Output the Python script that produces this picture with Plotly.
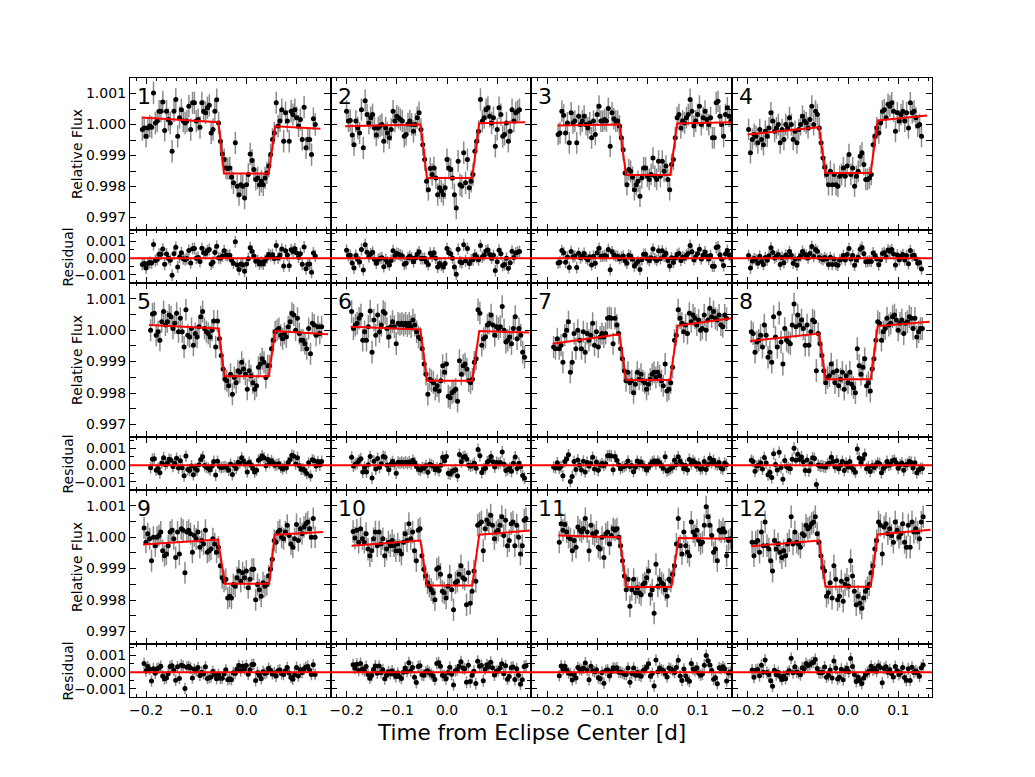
import numpy as np
import plotly.graph_objects as go
from plotly.subplots import make_subplots

# observation cadence [d] and first time stamp of every visit
cadence = 0.0037
t_start = [-0.2074, -0.200, -0.178, -0.198, -0.191, -0.190,
           -0.187, -0.1926, -0.204, -0.187, -0.1757, -0.191]

# typical photometric error [ppm]
err_ppm = [360, 360, 350, 350, 350, 360, 350, 360, 350, 360, 350, 360]

# relative flux - 1 [ppm], one list per visit
flux_p1 = [-160, -110, -380, -110, -50, -90, 1020, 50, 110, 430, 430, 730, -190, 430, 160, 50, -860, 430, 810, -380,
           220, 480, 110, 50, 110, 590, -160, 700, 700, 110, 160, -90, 700, 430, 380, 540, 620, -270, -160, 430,
           800, 50, -540, -950, -1130, -1400, -1420, -1400, -1700, -1880, -590, -1990, -2260, -1940, -1990, -2370,
           -1940, -1610, -950, -1160, -1450, -1770, -1720, -1940, -1830, -1940, -1720, -1560, -1340, -970, -480,
           -270, 700, -50, 110, 480, -540, 380, 110, -540, 430, 320, 480, 220, -50, 160, -480, 560, -750, -480,
           -480, -970, 190, 0]
flux_p2 = [430, 110, 130, -340, -650, 110, -110, -270, 480, -750, 770, 320, 50, 220, 320, -110, -340, -110, -50, 0,
           -540, -110, -270, -430, -160, 430, 110, 270, 220, 160, 110, -380, -320, 20, 110, 0, -220, 0, 220, 380,
           -160, -650, -1130, -1830, -2100, -1420, -1610, -1400, -1720, -2260, -2040, -2150, -2260, -2040, -1130,
           -1400, -1450, -1720, -2260, -2690, -1180, -1940, -1990, -910, -1880, -1130, -2040, -1830, -1610, -860,
           -540, -220, 810, 110, 220, 480, 540, 270, 50, 220, -700, -160, 540, 320, -380, -320, 50, -540, -220, 480,
           110, 380, 430, 480]
flux_p3 = [-320, -270, 430, 300, -270, 50, -590, 380, 50, 110, -590, 270, 0, 110, 270, 0, -110, 50, -430, 110,
           -320, 320, 590, 110, 110, 160, 110, 520, -700, 380, 190, 110, 110, -50, -430, -810, -1560, -1940, -1450,
           -1510, -1700, -2100, -1940, -1830, -2310, -1720, -1400, -1400, -1670, -1770, -1610, -1080, -1670, -1770,
           -1180, -1670, -1180, -1510, -1340, -1770, -2100, -1290, -1130, -430, 220, 320, -110, 110, 50, 220, 320,
           810, 430, -50, 110, 320, 590, 0, 220, 430, 160, 0, 220, -430, -430, 700, 750, 270, 0, -380, 320, 540,
           270, 110, 160]
flux_p4 = [-160, -910, -480, -320, -380, -590, -160, -480, -650, -220, -380, -110, 380, 110, -220, -110, 0, -590,
           -160, -480, 0, -110, 220, 0, -480, -220, -590, -160, 0, 270, 110, 50, -110, 160, 590, 0, 430, 320, -110,
           -590, -1080, -1380, -1610, -1940, -1510, -1940, -1610, -1940, -1990, -1670, -1610, -1400, -1670, -1340,
           -970, -1610, -1400, -1990, -1670, -1510, -1020, -910, -1290, -1770, -1770, -1720, -1610, -650, -380,
           -110, -270, 50, 430, 480, 220, 650, 590, 700, 430, -220, 380, 110, 320, 430, 110, 380, -110, 700, 380,
           430, 220, -50, 0, -380]
flux_p5 = [0, 510, 540, -160, -50, -320, 270, 590, 160, 270, 480, 430, 50, 220, 540, -50, 380, -50, -540, 650,
           -160, -220, 50, -480, -110, -220, 110, 430, 590, 50, -50, -110, -220, 0, 290, -540, 290, -270, -810,
           -1240, -1560, -1610, -1770, -1400, -2040, -1510, -1670, -1290, -1340, -1020, -1240, -1400, -1880, -1290,
           -1450, -1670, -1880, -1770, -1180, -1080, -910, -1020, -1510, -1130, -1130, -590, -320, -50, 0, 50, -160,
           -270, -110, -220, 110, 270, 540, 480, 0, 380, -110, -320, -320, -430, -590, 50, -750, 220, 160, -160,
           110, -110, 110]
flux_p6 = [590, 50, 160, 220, 380, 480, -320, -50, -320, 110, 610, -700, 320, -160, 480, -50, 160, 590, 540, 50,
           -220, 110, 270, 110, -430, 220, 180, 220, 160, 220, 140, 220, 110, 320, 160, -50, -220, -270, -590, -1080,
           -1400, -2040, -1560, -1610, -1670, -1880, -1770, -1940, -1610, -1130, -1340, -1080, -2100, -2150, -1990,
           -1940, -1880, -2260, -970, -1400, -1130, -1080, -1240, -1610, -1670, -1560, -1020, -910, 650, 540, -480,
           -270, -220, 160, 220, 480, 160, -160, 110, 50, 110, 750, 0, -380, -320, -220, -430, 50, 430, -270, 50,
           -160, -700, -860]
flux_p7 = [-540, -590, -270, -590, -480, -1020, -160, 0, 270, -1340, -1020, -110, -590, 0, -320, -590, -50, -700,
           -110, -320, -160, 220, -480, -50, -540, -220, -110, -220, -110, 380, 400, 380, -430, 380, 160, -110, -590,
           -910, -1290, -1610, -1340, -1670, -1610, -1990, -1720, -1340, -1560, -1400, -1610, -1670, -1880, -1720,
           -1560, -1400, -1340, -1510, -1340, -1450, -1610, -1770, -1080, -1940, -1880, -1670, -1180, -320, -160,
           650, 380, 220, -50, 160, -110, 540, 270, 480, 380, 160, 320, 0, 50, 480, 0, 320, 700, 430, 590, 380, 320,
           480, 160, 110, 480, 380]
flux_p8 = [-50, -110, -700, -380, -320, -160, -540, 160, -160, -860, -700, -1020, 430, -220, -540, 540, -380, -1080,
           50, -320, -380, -430, 160, 830, 110, 480, 160, 320, 50, -480, 160, -480, -50, 320, 270, -1290, -110, -430,
           -810, -1290, -1670, -1510, -1450, -1080, -1340, -1670, -1290, -1770, -1560, -1340, -1880, -1450, -1670,
           -1340, -1720, -1830, -1990, -590, -1130, -1400, -1180, -910, -1770, -1670, -1940, -1240, -910, -320, 270,
           220, -320, -50, 50, 380, 160, 220, 430, 480, 320, 0, 220, 320, -110, 220, 270, 430, 380, 50, 380, -220,
           -50, 50, 50]
flux_p9 = [290, -160, 110, -50, -750, 0, -270, 0, 50, 160, -430, -590, -540, -270, 160, 220, -50, -650, 160, -540,
           270, 220, -1130, 160, 220, 110, -480, 50, -50, 160, -320, -110, -220, 220, -480, -430, -380, -50, -220,
           -480, -320, -910, -1290, -1400, -1340, -1940, -1880, -1940, -1510, -1560, -1290, -1080, -1400, -1130,
           -1290, -1080, -1610, -1340, -1020, -1020, -1990, -1510, -1670, -1880, -1450, -1560, -1510, -1240, -1020,
           -700, -110, -160, 160, 220, 0, -50, 160, 380, 50, -220, -320, -50, 400, -110, 270, 110, 320, 430, 480,
           270, 0, 590, 0]
flux_p10 = [180, -30, 220, -160, 270, -50, -160, 110, -380, -590, -430, -50, 160, -270, 160, -220, -50, -590, -380,
            -160, -270, -110, -270, -430, -220, -430, -540, -160, 110, -110, 430, -50, 160, -430, -750, 220, 270,
            -590, -1020, -1240, -1450, -1560, -1670, -1770, -1990, -1020, -970, -1180, -1720, -1770, -1940, -1560,
            -1240, -1670, -2310, -1450, -1400, -1180, -910, -1290, -1340, -2150, -1130, -2100, -1720, -1080, -1400,
            380, 430, 480, -430, 270, 540, 430, 700, 380, -50, 160, 220, 380, 650, 50, 540, -270, -110, 430, 480,
            -270, 380, 0, -540, -270, 540, 590]
flux_p11 = [-160, 430, 220, 400, 160, 0, -50, -430, -110, -320, 320, 220, 160, 270, 590, 160, -430, 380, 110, 50,
            160, -320, -380, 0, -650, 110, 160, -220, 50, 270, 220, 270, 0, -270, -750, -1240, -1670, -1340, -2200,
            -1670, -1340, -1770, -1610, -1770, -1830, -1510, -1450, -1290, -1080, -1830, -1670, -2420, -860, -1560,
            -1340, -1450, -1510, -1670, -1880, -1340, -1400, -1180, -910, -220, 590, -270, -540, 160, -270, -480,
            -590, 480, 160, 50, 220, -110, -220, -160, 380, 970, 650, 380, 50, -480, -380, -750, 220, 160, 270, 160,
            -590, -110, -50]
flux_p12 = [-160, -590, -160, -110, -480, 160, -270, 480, -270, -380, -750, -1080, -110, -380, -220, -480, -650,
            -430, -590, -220, -110, 650, -220, 160, -160, -220, -320, 110, 50, 380, 270, 320, 430, 480, 650, 110,
            -160, -590, -970, -1080, -1880, -1770, -1450, -1940, -910, -1340, -1990, -1880, -1400, -2040, -1510,
            -1340, -1560, -750, -1240, -1720, -2150, -1880, -2100, -2260, -1940, -1720, -1610, -1510, -1130, -910,
            -380, -110, 480, 380, -540, 320, 430, 110, 270, 50, -160, 480, 220, 0, 110, 430, -160, -320, 380, -320,
            480, 160, 270, 160, -50, 480, 650]

flux_ppm = [flux_p1, flux_p2, flux_p3, flux_p4, flux_p5, flux_p6,
            flux_p7, flux_p8, flux_p9, flux_p10, flux_p11, flux_p12]

# eclipse model vertices: start, 1st-4th contact, end  (time [d], flux-1 [ppm])
model_t = [[-0.209, -0.056, -0.045, 0.044, 0.057, 0.147],
           [-0.203, -0.053, -0.040, 0.050, 0.064, 0.155],
           [-0.179, -0.056, -0.043, 0.045, 0.059, 0.166],
           [-0.200, -0.058, -0.045, 0.045, 0.059, 0.157],
           [-0.194, -0.056, -0.044, 0.044, 0.057, 0.162],
           [-0.192, -0.053, -0.040, 0.050, 0.064, 0.163],
           [-0.189, -0.056, -0.043, 0.045, 0.060, 0.166],
           [-0.195, -0.058, -0.045, 0.045, 0.059, 0.162],
           [-0.206, -0.057, -0.043, 0.045, 0.056, 0.152],
           [-0.190, -0.053, -0.040, 0.050, 0.064, 0.166],
           [-0.178, -0.056, -0.042, 0.047, 0.062, 0.166],
           [-0.193, -0.058, -0.045, 0.045, 0.059, 0.164]]
model_f = [[225, 75, -1580, -1580, -55, -140],
           [-55, 0, -1720, -1720, 40, 75],
           [-30, 0, -1630, -1630, 30, 75],
           [-320, -85, -1560, -1560, 130, 290],
           [160, 55, -1470, -1470, -30, -130],
           [110, 20, -1610, -1610, -30, -75],
           [-430, -130, -1590, -1590, 140, 375],
           [-345, -110, -1560, -1560, 130, 270],
           [-235, -75, -1480, -1480, 75, 160],
           [-270, -110, -1540, -1540, 75, 215],
           [55, 0, -1590, -1590, -30, -55],
           [-290, -110, -1580, -1580, 85, 235]]

xlim = [-0.232, 0.167]
flux_lim = [0.99660, 1.00150]
res_lim = [-0.0015, 0.0017]


def ax_ref(letter, idx):
    return letter + ('' if idx == 1 else str(idx))


fig = make_subplots(rows=6, cols=4, horizontal_spacing=0, vertical_spacing=0,
                    row_heights=[152, 53, 154, 53, 154, 53])

dot = dict(color='black', size=5)
ebar_col = 'rgb(140,140,140)'

for k in range(12):
    r = 2 * (k // 4) + 1
    c = k % 4 + 1
    n = len(flux_ppm[k])
    t = t_start[k] + cadence * np.arange(n)
    f = np.array(flux_ppm[k]) * 1e-6
    m = np.interp(t, model_t[k], model_f[k]) * 1e-6
    err = np.full(n, err_ppm[k] * 1e-6)

    fig.add_trace(go.Scatter(x=t, y=1 + f, mode='markers', marker=dot,
                             error_y=dict(type='data', array=err, color=ebar_col, thickness=1.5, width=0)),
                  row=r, col=c)
    fig.add_trace(go.Scatter(x=model_t[k], y=1 + np.array(model_f[k]) * 1e-6, mode='lines',
                             line=dict(color='red', width=2)), row=r, col=c)
    fig.add_trace(go.Scatter(x=t, y=f - m, mode='markers', marker=dot,
                             error_y=dict(type='data', array=err, color=ebar_col, thickness=1.5, width=0)),
                  row=r + 1, col=c)
    fig.add_hline(y=0, line=dict(color='red', width=2), row=r + 1, col=c)

    idx = (r - 1) * 4 + c
    fig.add_annotation(text=str(k + 1), xref=ax_ref('x', idx) + ' domain',
                       yref=ax_ref('y', idx) + ' domain', x=0.025, y=0.975,
                       xanchor='left', yanchor='top', showarrow=False,
                       font=dict(size=22, color='black'))

axis_common = dict(showline=True, linecolor='black', linewidth=1.3, mirror='ticks',
                   ticks='inside', ticklen=6, tickwidth=1, tickcolor='black',
                   showgrid=False, zeroline=False,
                   tickfont=dict(size=14, color='black'))

for r in range(1, 7):
    for c in range(1, 5):
        flux_row = r % 2 == 1
        fig.update_xaxes(axis_common, range=xlim, tick0=0, dtick=0.1, tickformat='.1f',
                         minor=dict(dtick=0.02, ticks='inside', ticklen=3, tickcolor='black'),
                         showticklabels=(r == 6), row=r, col=c)
        if flux_row:
            fig.update_yaxes(axis_common, range=flux_lim, tick0=1.0, dtick=0.001, tickformat='.3f',
                             minor=dict(dtick=0.0005, ticks='inside', ticklen=6, tickcolor='black'),
                             showticklabels=(c == 1), row=r, col=c)
        else:
            fig.update_yaxes(axis_common, range=res_lim, tick0=0, dtick=0.001, tickformat='.3f',
                             minor=dict(dtick=0.0005, ticks='inside', ticklen=4, tickcolor='black'),
                             showticklabels=(c == 1), row=r, col=c)

for g in range(3):
    fig.add_annotation(text='Relative Flux', xref='paper', yref=ax_ref('y', 8 * g + 1) + ' domain',
                       x=-0.0786, y=0.5, textangle=-90, showarrow=False,
                       font=dict(size=14, color='black'))
    fig.add_annotation(text='Residual', xref='paper', yref=ax_ref('y', 8 * g + 5) + ' domain',
                       x=-0.0898, y=0.5, textangle=-90, showarrow=False,
                       font=dict(size=14, color='black'))

fig.add_annotation(text='Time from Eclipse Center [d]', xref='paper', yref='paper',
                   x=0.5, y=-0.058, yanchor='middle', showarrow=False,
                   font=dict(size=21.5, color='black'))

# the page adds an 8 px body margin, so the plot area is offset accordingly
fig.update_layout(width=1035, height=777, showlegend=False,
                  margin=dict(l=122, r=111, t=70, b=88),
                  plot_bgcolor='white', paper_bgcolor='white',
                  font=dict(family='DejaVu Sans', color='black'))

fig.write_html("out.html")
